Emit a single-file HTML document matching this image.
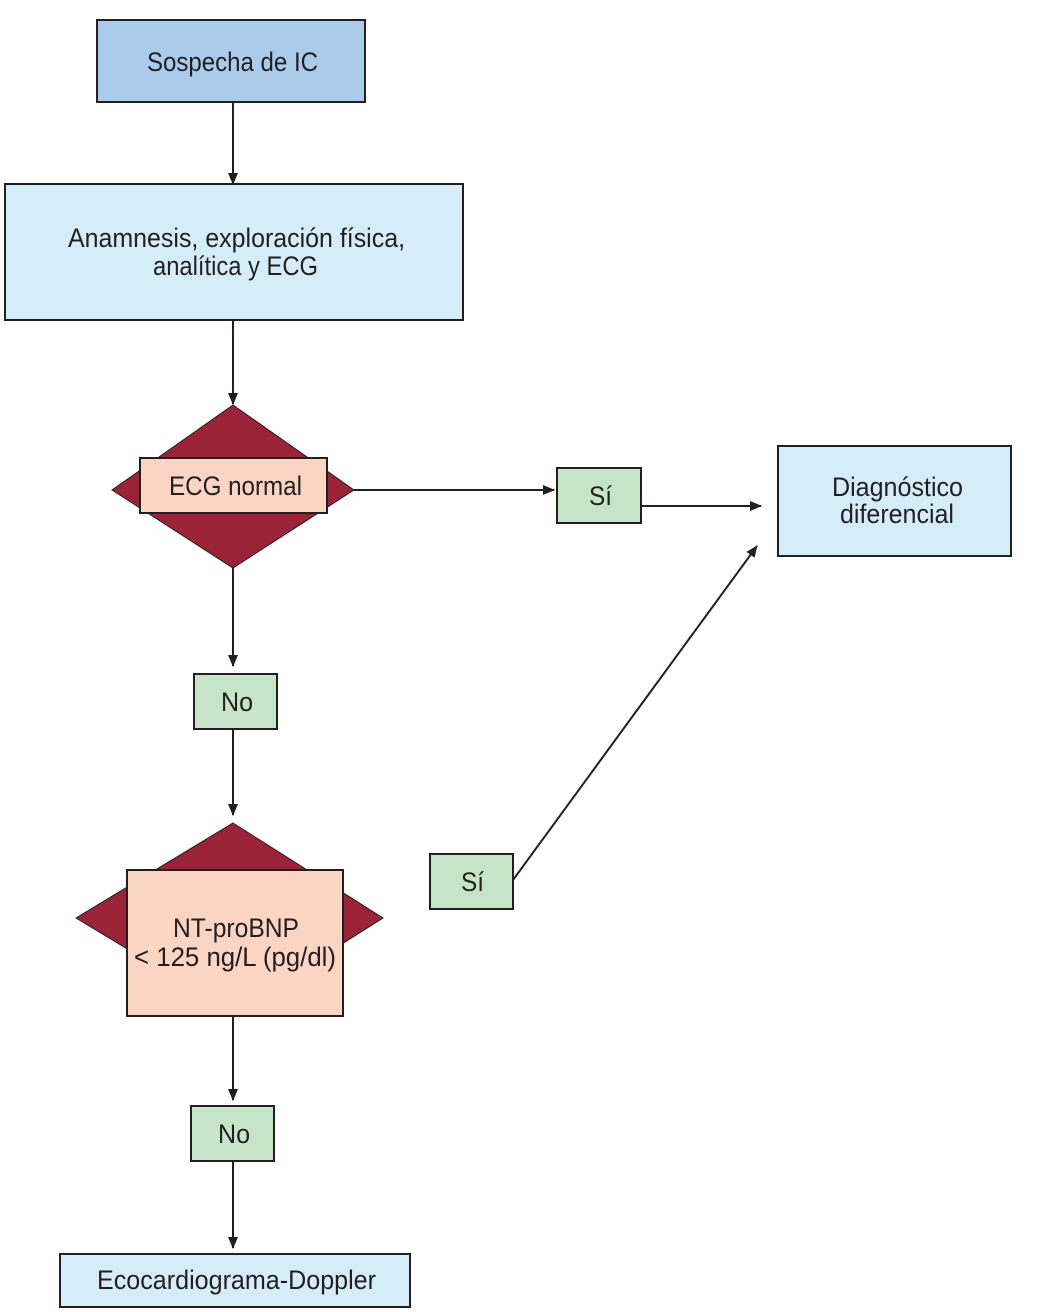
<!DOCTYPE html>
<html><head><meta charset="utf-8"><style>
html,body{margin:0;padding:0;background:#fff;}
svg{display:block;}
text{font-family:"Liberation Sans",sans-serif;font-size:27px;fill:#231f20;}
</style></head><body>
<svg width="1037" height="1312" viewBox="0 0 1037 1312" xmlns="http://www.w3.org/2000/svg">
<defs><marker id="a" markerWidth="12" markerHeight="12" refX="11" refY="6" orient="auto" markerUnits="userSpaceOnUse"><path d="M0,1 L12,6 L0,11 Z" fill="#231f20"/></marker></defs>
<g stroke="#231f20" stroke-width="2" fill="none">
<line x1="233" y1="102" x2="233" y2="184" marker-end="url(#a)"/>
<line x1="233" y1="320" x2="233" y2="404" marker-end="url(#a)"/>
<line x1="354" y1="490" x2="554" y2="490" marker-end="url(#a)"/>
<line x1="641" y1="506" x2="761" y2="506" marker-end="url(#a)"/>
<line x1="233" y1="568" x2="233" y2="666" marker-end="url(#a)"/>
<line x1="233" y1="729" x2="233" y2="815" marker-end="url(#a)"/>
<line x1="513" y1="880" x2="757" y2="546" marker-end="url(#a)"/>
<line x1="233" y1="1016" x2="233" y2="1100" marker-end="url(#a)"/>
<line x1="233" y1="1161" x2="233" y2="1248" marker-end="url(#a)"/>
</g>
<g stroke="#231f20" stroke-width="2">
<rect x="97" y="20" width="268" height="82" fill="#abcbea"/>
<rect x="5" y="184" width="458" height="136" fill="#d5edf9"/>
<polygon points="233,405 354,490 233,568 112,490" fill="#9b2337" stroke-width="1"/>
<rect x="140" y="458" width="187" height="55" fill="#fbd5c3"/>
<rect x="557" y="468" width="84" height="55" fill="#c6e4c7"/>
<rect x="778" y="446" width="233" height="110" fill="#d5edf9"/>
<rect x="194" y="674" width="83" height="55" fill="#c6e4c7"/>
<polygon points="233,823 383,918 233,1013 76,918" fill="#9b2337" stroke-width="1"/>
<rect x="127" y="870" width="216" height="146" fill="#fbd5c3"/>
<rect x="430" y="854" width="83" height="55" fill="#c6e4c7"/>
<rect x="191" y="1106" width="83" height="55" fill="#c6e4c7"/>
<rect x="60" y="1254" width="350" height="53" fill="#d5edf9"/>
</g>
<g lengthAdjust="spacingAndGlyphs">
<text x="147" y="71" textLength="171" lengthAdjust="spacingAndGlyphs">Sospecha de IC</text>
<text x="68" y="247" textLength="337" lengthAdjust="spacingAndGlyphs">Anamnesis, exploración física,</text>
<text x="153" y="275" textLength="165" lengthAdjust="spacingAndGlyphs">analítica y ECG</text>
<text x="169" y="495" textLength="133" lengthAdjust="spacingAndGlyphs">ECG normal</text>
<text x="589" y="505" textLength="23" lengthAdjust="spacingAndGlyphs">Sí</text>
<text x="832" y="496" textLength="131" lengthAdjust="spacingAndGlyphs">Diagnóstico</text>
<text x="840" y="523" textLength="114" lengthAdjust="spacingAndGlyphs">diferencial</text>
<text x="221" y="711" textLength="32" lengthAdjust="spacingAndGlyphs">No</text>
<text x="173" y="937" textLength="126" lengthAdjust="spacingAndGlyphs">NT-proBNP</text>
<text x="134" y="966" textLength="202" lengthAdjust="spacingAndGlyphs">&lt; 125 ng/L (pg/dl)</text>
<text x="461" y="891" textLength="23" lengthAdjust="spacingAndGlyphs">Sí</text>
<text x="218" y="1143" textLength="32" lengthAdjust="spacingAndGlyphs">No</text>
<text x="97" y="1289" textLength="279" lengthAdjust="spacingAndGlyphs">Ecocardiograma-Doppler</text>
</g>
</svg>
</body></html>
